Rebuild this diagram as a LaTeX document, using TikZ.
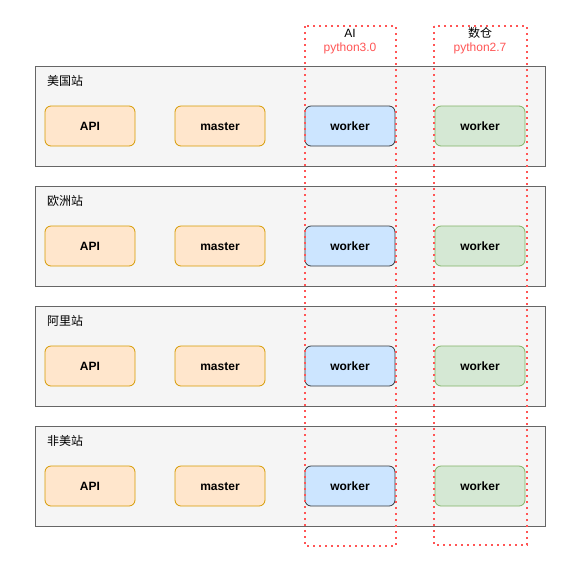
\documentclass[tikz,border=0pt]{standalone}
\usepackage{fontspec}
\setmainfont{Liberation Sans}
\newfontfamily\cjk{Noto Sans CJK SC}
\usepackage{tikz}
\usetikzlibrary{positioning}
\definecolor{sitefill}{HTML}{F5F5F5}
\definecolor{siteline}{HTML}{666666}
\definecolor{apifill}{HTML}{FFE6CC}
\definecolor{apiline}{HTML}{D79B00}
\definecolor{aifill}{HTML}{CCE5FF}
\definecolor{ailine}{HTML}{36393D}
\definecolor{dwfill}{HTML}{D5E8D4}
\definecolor{dwline}{HTML}{82B366}
\definecolor{envred}{HTML}{FF5555}
\tikzset{
  sitebox/.style={fill=sitefill, draw=siteline, line width=0.8pt},
  svc/.style={rounded corners=6pt, line width=0.8pt, minimum width=90pt, minimum height=40pt,
    font=\fontsize{12}{14}\selectfont\bfseries, inner sep=0pt, text height=10pt, text depth=1.4pt},
  apibox/.style={svc, fill=apifill, draw=apiline},
  aibox/.style={svc, fill=aifill, draw=ailine},
  dwbox/.style={svc, fill=dwfill, draw=dwline},
  envbox/.style={draw=envred, line width=2pt, dash pattern=on 2pt off 4pt},
}

\begin{document}
\begin{tikzpicture}[x=1pt, y=-1pt, font=\fontsize{12}{14}\selectfont]
    \useasboundingbox (0,0) rectangle (581,566);

    % sites
    \foreach \i/\site/\nm in {0/美国站/us, 1/欧洲站/eu, 2/阿里站/ali, 3/非美站/nonus} {
      \draw[sitebox] (35, 66+120*\i) rectangle (545, 166+120*\i);
      \node[anchor=west, inner sep=0pt] (\nm-label) at (47, 81+120*\i) {\cjk\site};
      \node[apibox] (\nm-api) at (90, 126+120*\i) {API};
      \node[apibox] (\nm-master) at (220, 126+120*\i) {master};
      \node[aibox] (\nm-ai) at (350, 126+120*\i) {worker};
      \node[dwbox] (\nm-dw) at (480, 126+120*\i) {worker};
    }

    % environments
    \draw[envbox] (305, 26) rectangle (396, 546);
    \node (ai-title) at (350, 33) {AI};
    \node[text=envred] (ai-env) at (350, 48) {python3.0};

    \draw[envbox] (434, 26) rectangle (527, 545);
    \node (dw-title) at (480, 33) {\cjk 数仓};
    \node[text=envred] (dw-env) at (480, 48) {python2.7};
\end{tikzpicture}
\end{document}
